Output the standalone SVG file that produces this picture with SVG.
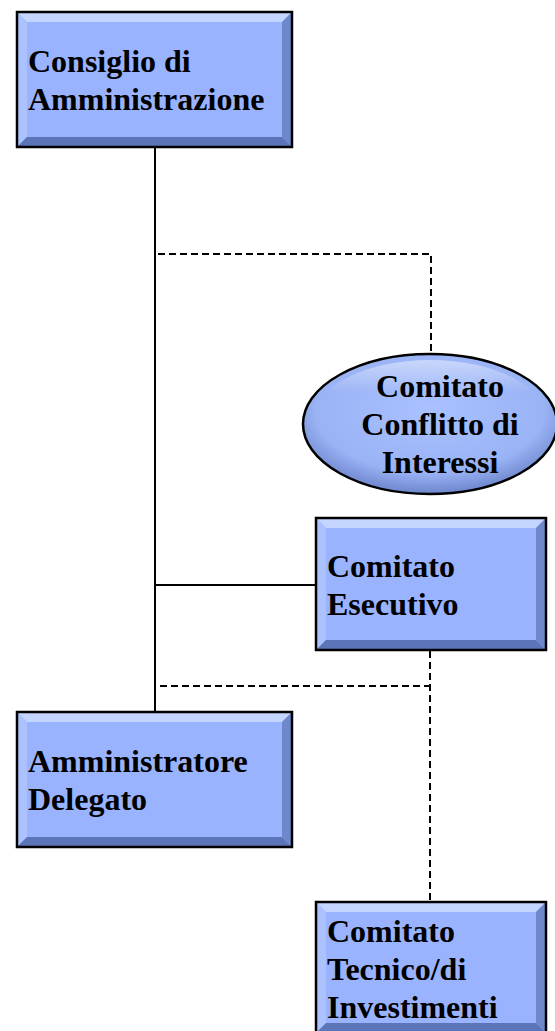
<svg xmlns="http://www.w3.org/2000/svg" width="555" height="1031" viewBox="0 0 555 1031">
<style>
.face{fill:#99b3ff}
.bt{fill:#c4d5ff}
.bl{fill:#acc2ff}
.br{fill:#6f88cc}
.bb{fill:#5c74b8}
.edge{fill:none;stroke:#000;stroke-width:2.5}
.lbl{font-family:"Liberation Serif","Times New Roman",serif;font-weight:bold;font-size:32px;fill:#000}
.solid{fill:none;stroke:#000;stroke-width:2}
.dash{fill:none;stroke:#000;stroke-width:2;stroke-dasharray:7 4}
</style>
<defs>
<radialGradient id="eg" cx="0.5" cy="0.4" r="0.6">
<stop offset="0" stop-color="#a9c1ff"/>
<stop offset="0.75" stop-color="#9ab3f5"/>
<stop offset="1" stop-color="#6d86cc"/>
</radialGradient>
<linearGradient id="eh" x1="0" y1="0" x2="0" y2="1">
<stop offset="0" stop-color="#ffffff" stop-opacity="0.45"/>
<stop offset="0.25" stop-color="#ffffff" stop-opacity="0"/>
<stop offset="1" stop-color="#ffffff" stop-opacity="0"/>
</linearGradient>
</defs>
<g id="connectors">
<line class="solid" x1="155" y1="147" x2="155" y2="712"/>
<polyline class="dash" points="158,254 431,254 431,354"/>
<line class="solid" x1="155" y1="585" x2="316" y2="585"/>
<line class="dash" x1="160" y1="686" x2="430" y2="686"/>
<line class="dash" x1="430" y1="651" x2="430" y2="902"/>
</g>
<g id="consiglio">
<rect class="face" x="17" y="12" width="275" height="135"/>
<polygon class="bt" points="17,12 292,12 282,22 27,22"/>
<polygon class="bl" points="17,12 27,22 27,137 17,147"/>
<polygon class="br" points="292,12 292,147 282,137 282,22"/>
<polygon class="bb" points="17,147 27,137 282,137 292,147"/>
<rect class="edge" x="17" y="12" width="275" height="135"/>
<text class="lbl" x="28" y="72">Consiglio di</text>
<text class="lbl" x="28" y="110">Amministrazione</text>
</g>
<g id="conflitto">
<ellipse cx="430" cy="424" rx="127" ry="70" fill="url(#eg)" stroke="#000" stroke-width="2.5"/>
<ellipse cx="430" cy="424" rx="120" ry="64" fill="url(#eh)"/>
<text class="lbl" x="440" y="397" text-anchor="middle">Comitato</text>
<text class="lbl" x="440" y="435" text-anchor="middle">Conflitto di</text>
<text class="lbl" x="440" y="473" text-anchor="middle">Interessi</text>
</g>
<g id="esecutivo">
<rect class="face" x="316" y="518" width="230" height="132"/>
<polygon class="bt" points="316,518 546,518 536,528 326,528"/>
<polygon class="bl" points="316,518 326,528 326,640 316,650"/>
<polygon class="br" points="546,518 546,650 536,640 536,528"/>
<polygon class="bb" points="316,650 326,640 536,640 546,650"/>
<rect class="edge" x="316" y="518" width="230" height="132"/>
<text class="lbl" x="327" y="577">Comitato</text>
<text class="lbl" x="327" y="615">Esecutivo</text>
</g>
<g id="amministratore">
<rect class="face" x="17" y="712" width="275" height="135"/>
<polygon class="bt" points="17,712 292,712 282,722 27,722"/>
<polygon class="bl" points="17,712 27,722 27,837 17,847"/>
<polygon class="br" points="292,712 292,847 282,837 282,722"/>
<polygon class="bb" points="17,847 27,837 282,837 292,847"/>
<rect class="edge" x="17" y="712" width="275" height="135"/>
<text class="lbl" x="28" y="772">Amministratore</text>
<text class="lbl" x="28" y="810">Delegato</text>
</g>
<g id="tecnico">
<rect class="face" x="316" y="902" width="230" height="131"/>
<polygon class="bt" points="316,902 546,902 536,912 326,912"/>
<polygon class="bl" points="316,902 326,912 326,1023 316,1033"/>
<polygon class="br" points="546,902 546,1033 536,1023 536,912"/>
<polygon class="bb" points="316,1033 326,1023 536,1023 546,1033"/>
<rect class="edge" x="316" y="902" width="230" height="131"/>
<text class="lbl" x="327" y="942">Comitato</text>
<text class="lbl" x="327" y="980">Tecnico/di</text>
<text class="lbl" x="327" y="1018">Investimenti</text>
</g>
</svg>
